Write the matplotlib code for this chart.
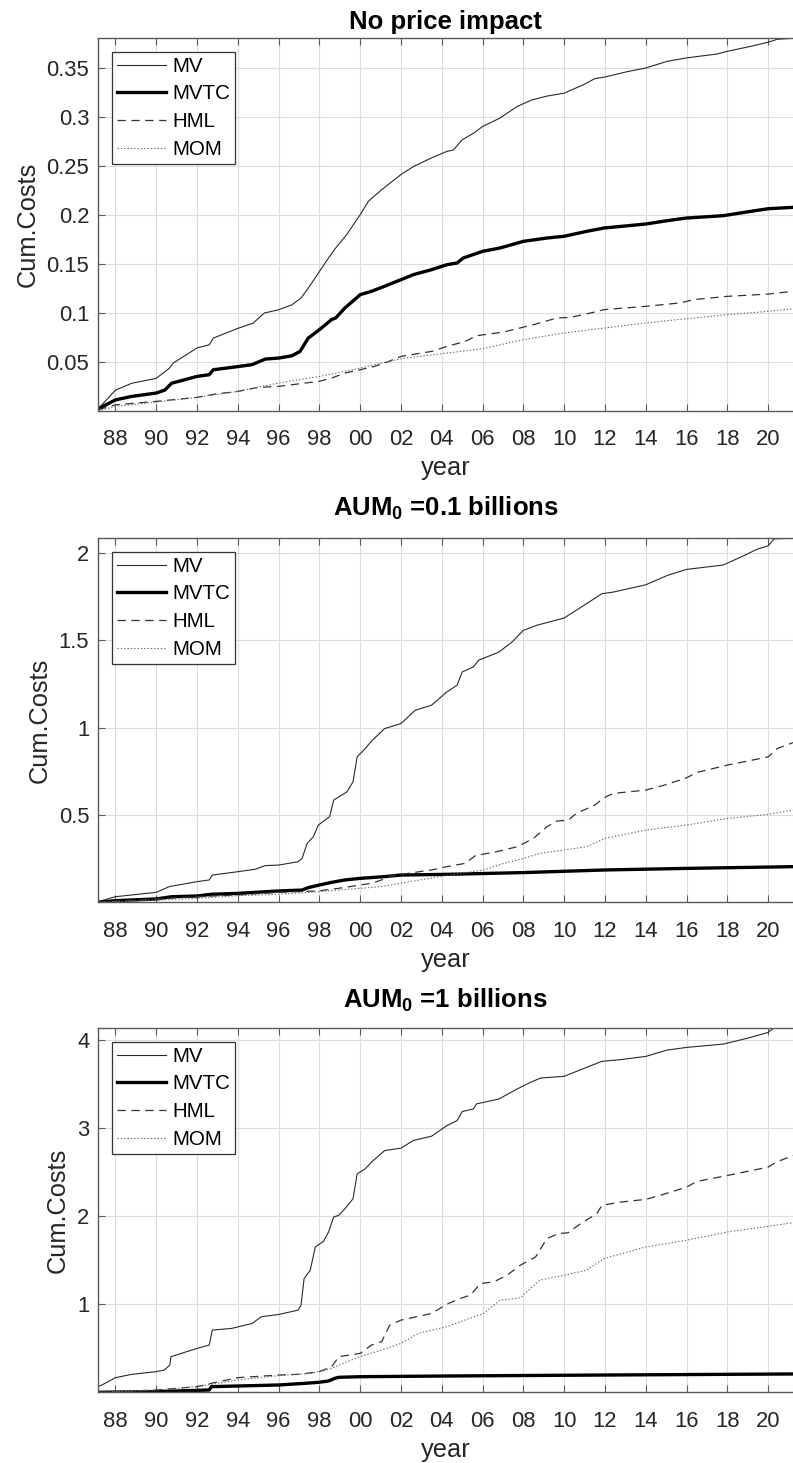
import matplotlib
matplotlib.use("Agg")
import matplotlib.pyplot as plt

plt.rcParams["font.family"] = ["Liberation Sans", "DejaVu Sans"]
plt.rcParams["mathtext.fontset"] = "custom"
plt.rcParams["mathtext.rm"] = "Liberation Sans"
plt.rcParams["mathtext.bf"] = "Liberation Sans:bold"
plt.rcParams["lines.scale_dashes"] = False

# ---- x axis (years) ----
x_ticks = [1988, 1990, 1992, 1994, 1996, 1998, 2000, 2002, 2004, 2006,
           2008, 2010, 2012, 2014, 2016, 2018, 2020]
x_tick_labels = ["88", "90", "92", "94", "96", "98", "00", "02", "04", "06",
                 "08", "10", "12", "14", "16", "18", "20"]
x_range = (1987.16, 2021.22)

titles = ["No price impact",
          r"$\mathbf{AUM_0}$ =0.1 billions",
          r"$\mathbf{AUM_0}$ =1 billions"]
series_names = ["MV", "MVTC", "HML", "MOM"]

# ---- panel 1: no price impact ----
mv1_t = [1987.16, 1988.0, 1988.8, 1990.0, 1990.65, 1990.83, 1992.0, 1992.6, 1992.8, 1994.0, 1994.76, 1995.3,
         1996.0, 1996.65, 1997.1, 1997.45, 1998.0, 1998.45, 1998.8, 1999.35, 2000.0, 2000.4, 2001.05, 2002.0,
         2002.6, 2003.5, 2004.25, 2004.57, 2005.0, 2005.55, 2006.0, 2006.85, 2007.7, 2008.4, 2009.15, 2010.0,
         2010.95, 2011.5, 2012.0, 2013.1, 2014.0, 2015.05, 2016.0, 2017.5, 2018.0, 2019.15, 2020.0, 2020.45,
         2021.22]
mv1_v = [0.002, 0.021, 0.028, 0.033, 0.0435, 0.0486, 0.064, 0.0673, 0.0741, 0.084, 0.0895, 0.0997,
         0.103, 0.108, 0.115, 0.125, 0.142, 0.156, 0.166, 0.18, 0.2, 0.2136, 0.2255, 0.241,
         0.249, 0.258, 0.2646, 0.266, 0.2765, 0.283, 0.29, 0.2986, 0.3105, 0.317, 0.321, 0.324,
         0.3327, 0.3388, 0.3405, 0.346, 0.3497, 0.3565, 0.36, 0.364, 0.3667, 0.3718, 0.376, 0.379,
         0.38]
mvtc1_t = [1987.16, 1988.0, 1988.8, 1990.0, 1990.42, 1990.75, 1992.0, 1992.6, 1992.8, 1994.0, 1994.7, 1995.35,
           1996.0, 1996.65, 1997.05, 1997.45, 1998.0, 1998.6, 1998.8, 1999.25, 2000.0, 2000.55, 2001.2, 2002.0,
           2002.6, 2003.5, 2004.25, 2004.75, 2005.05, 2006.0, 2006.85, 2008.0, 2009.15, 2010.0, 2011.1, 2011.95,
           2014.0, 2015.05, 2016.0, 2017.8, 2019.15, 2020.0, 2021.22]
mvtc1_v = [0.002, 0.011, 0.0146, 0.018, 0.021, 0.028, 0.035, 0.0367, 0.0418, 0.045, 0.047, 0.0527,
           0.0537, 0.056, 0.0605, 0.074, 0.0827, 0.093, 0.0946, 0.1048, 0.1184, 0.1218, 0.127, 0.1337,
           0.1388, 0.1439, 0.149, 0.1507, 0.1558, 0.1626, 0.166, 0.1728, 0.1762, 0.178, 0.183, 0.1864,
           0.1905, 0.1939, 0.1966, 0.199, 0.2034, 0.2061, 0.2075]
hml1_t = [1987.16, 1988.0, 1990.0, 1992.0, 1992.9, 1994.0, 1995.0, 1996.0, 1997.3, 1998.0, 1998.6, 1999.25,
          2000.0, 2000.7, 2001.4, 2002.0, 2002.7, 2003.5, 2004.25, 2005.15, 2005.7, 2007.03, 2008.5, 2009.65,
          2010.3, 2011.3, 2011.95, 2014.0, 2015.7, 2016.35, 2018.0, 2020.0, 2021.22]
hml1_v = [0.001, 0.006, 0.0095, 0.0136, 0.017, 0.0197, 0.0238, 0.0248, 0.0282, 0.03, 0.0333, 0.0384,
          0.0418, 0.0452, 0.0503, 0.0554, 0.0578, 0.0605, 0.0656, 0.0707, 0.0765, 0.0803, 0.0878, 0.0946,
          0.0952, 0.0997, 0.1031, 0.1065, 0.11, 0.1133, 0.1167, 0.119, 0.1218]
mom1_t = [1987.16, 1988, 1990, 1992, 1994, 1996, 1998, 2000, 2002, 2004.25, 2006, 2008, 2010, 2012,
          2014, 2016, 2018, 2020, 2021.22]
mom1_v = [0.0, 0.0044, 0.0088, 0.0136, 0.0197, 0.0282, 0.035, 0.0435, 0.053, 0.0588, 0.0633, 0.0724,
          0.0793, 0.0844, 0.0895, 0.0939, 0.098, 0.1014, 0.104]

# ---- panel 2: AUM0 = 0.1 billions ----
mv2_t = [1987.16, 1988.0, 1990.0, 1990.65, 1992.0, 1992.6, 1992.75, 1994.0, 1994.85, 1995.35, 1996.0, 1996.95,
         1997.15, 1997.4, 1997.7, 1997.95, 1998.5, 1998.7, 1999.35, 1999.65, 1999.85, 2000.25, 2000.55, 2001.2,
         2002.0, 2002.7, 2003.5, 2004.25, 2004.75, 2005.0, 2005.55, 2005.8, 2006.8, 2007.45, 2008.0, 2008.65,
         2010.0, 2011.1, 2011.85, 2012.4, 2014.0, 2015.05, 2016.0, 2017.8, 2018.8, 2019.45, 2020.0, 2020.3,
         2021.22]
mv2_v = [0.004, 0.032, 0.057, 0.09, 0.118, 0.128, 0.156, 0.175, 0.189, 0.21, 0.213, 0.232,
         0.251, 0.337, 0.375, 0.442, 0.49, 0.585, 0.632, 0.69, 0.832, 0.88, 0.922, 0.994,
         1.023, 1.099, 1.128, 1.204, 1.242, 1.318, 1.347, 1.385, 1.432, 1.49, 1.556, 1.585,
         1.627, 1.709, 1.766, 1.775, 1.817, 1.87, 1.905, 1.93, 1.983, 2.02, 2.04, 2.08,
         2.083]
mvtc2_t = [1987.16, 1988, 1990, 1990.75, 1992, 1992.7, 1994, 1996, 1997.15, 1997.45, 1998, 1998.6,
           1999.25, 2000, 2001.2, 2002, 2004.25, 2008, 2012, 2016, 2021.22]
mvtc2_v = [0.0, 0.0095, 0.019, 0.032, 0.036, 0.046, 0.051, 0.065, 0.07, 0.084, 0.099, 0.114,
           0.128, 0.137, 0.147, 0.156, 0.16, 0.17, 0.185, 0.194, 0.204]
hml2_t = [1987.16, 1990, 1992, 1994, 1996, 1997.95, 1998.93, 2000, 2000.57, 2001.05, 2001.39, 2002,
          2003.5, 2004.25, 2005.15, 2005.65, 2006.7, 2007.7, 2008.5, 2009.15, 2009.65, 2010.2, 2010.6,
          2011.5, 2011.95, 2012.4, 2014, 2014.9, 2016, 2016.5, 2018, 2020, 2020.45, 2021.22]
hml2_v = [0.0, 0.019, 0.032, 0.042, 0.057, 0.065, 0.08, 0.099, 0.109, 0.128, 0.147, 0.16,
          0.185, 0.204, 0.223, 0.267, 0.29, 0.318, 0.366, 0.432, 0.465, 0.47, 0.509,
          0.556, 0.598, 0.623, 0.642, 0.67, 0.712, 0.743, 0.785, 0.832, 0.88, 0.914]
mom2_t = [1987.16, 1990, 1992, 1994, 1996, 1998, 2000, 2001.05, 2002, 2004.0, 2006.05, 2007.05,
          2008, 2008.8, 2010, 2011.1, 2012, 2014, 2016, 2018, 2020, 2021.22]
mom2_v = [0.0, 0.013, 0.023, 0.038, 0.046, 0.061, 0.08, 0.09, 0.109, 0.15, 0.185, 0.223,
          0.251, 0.28, 0.299, 0.318, 0.366, 0.413, 0.442, 0.48, 0.503, 0.528]

# ---- panel 3: AUM0 = 1 billions ----
mv3_t = [1987.16, 1987.48, 1988.0, 1988.8, 1990.0, 1990.4, 1990.67, 1990.72, 1992.0, 1992.6, 1992.75, 1993.7,
         1994.7, 1995.15, 1996.0, 1996.95, 1997.1, 1997.25, 1997.55, 1997.8, 1998.2, 1998.45, 1998.7, 1998.95,
         1999.25, 1999.65, 1999.85, 2000.25, 2000.55, 2001.2, 2002.0, 2002.6, 2003.5, 2004.25, 2004.75, 2005.0,
         2005.55, 2005.7, 2006.8, 2007.7, 2008.35, 2008.85, 2010.0, 2011.1, 2011.85, 2012.75, 2014.0, 2015.05,
         2016.0, 2017.8, 2018.95, 2020.0, 2020.25, 2021.22]
mv3_v = [0.064, 0.1, 0.166, 0.204, 0.234, 0.253, 0.31, 0.404, 0.498, 0.536, 0.706, 0.725,
         0.781, 0.857, 0.883, 0.932, 0.989, 1.29, 1.385, 1.649, 1.713, 1.819, 1.989, 2.008,
         2.083, 2.196, 2.479, 2.536, 2.611, 2.743, 2.77, 2.857, 2.906, 3.026, 3.083, 3.185,
         3.215, 3.272, 3.328, 3.442, 3.517, 3.566, 3.585, 3.687, 3.755, 3.774, 3.811, 3.883,
         3.913, 3.951, 4.015, 4.083, 4.128, 4.13]
mvtc3_t = [1987.16, 1990, 1992.6, 1992.7, 1996, 1997.3, 1997.95, 1998.45, 1998.75, 1998.95, 2000,
           2004.25, 2012, 2021.22]
mvtc3_v = [0.0, 0.008, 0.026, 0.064, 0.083, 0.102, 0.113, 0.128, 0.158, 0.17, 0.177,
           0.185, 0.196, 0.208]
hml3_t = [1987.16, 1990, 1992, 1992.7, 1994, 1996, 1997, 1998, 1998.6, 1998.95, 2000, 2000.55,
          2001.05, 2001.45, 2002, 2003.5, 2004.25, 2004.9, 2005.4, 2005.9, 2006.55, 2007.2, 2007.85,
          2008.6, 2009.15, 2009.7, 2010.2, 2010.8, 2011.6, 2011.85, 2012.75, 2014, 2014.7, 2016,
          2016.5, 2018, 2020, 2020.4, 2021.22]
hml3_v = [0.0, 0.026, 0.064, 0.102, 0.166, 0.196, 0.204, 0.234, 0.29, 0.404, 0.442, 0.536,
          0.574, 0.762, 0.819, 0.894, 1.0, 1.064, 1.102, 1.234, 1.253, 1.328, 1.442,
          1.536, 1.743, 1.8, 1.811, 1.913, 2.026, 2.121, 2.158, 2.189, 2.234, 2.328,
          2.392, 2.46, 2.555, 2.611, 2.687]
mom3_t = [1987.16, 1990, 1992, 1994, 1996, 1997.6, 1998.6, 1999.35, 2000, 2001.05, 2002, 2002.85,
          2004.25, 2004.9, 2006.05, 2006.85, 2007.85, 2008.8, 2010, 2011.1, 2011.95, 2013.1, 2014,
          2016, 2018, 2020, 2021.22]
mom3_v = [0.0, 0.026, 0.064, 0.14, 0.189, 0.215, 0.272, 0.347, 0.404, 0.479, 0.555, 0.668,
          0.745, 0.8, 0.894, 1.045, 1.072, 1.272, 1.328, 1.385, 1.517, 1.592, 1.649,
          1.725, 1.819, 1.883, 1.925]

y_ticks = [[0.05, 0.1, 0.15, 0.2, 0.25, 0.3, 0.35],
           [0.5, 1, 1.5, 2],
           [1, 2, 3, 4]]
y_tops = [0.38, 2.083, 4.13]

panels = [
    [(mv1_t, mv1_v), (mvtc1_t, mvtc1_v), (hml1_t, hml1_v), (mom1_t, mom1_v)],
    [(mv2_t, mv2_v), (mvtc2_t, mvtc2_v), (hml2_t, hml2_v), (mom2_t, mom2_v)],
    [(mv3_t, mv3_v), (mvtc3_t, mvtc3_v), (hml3_t, hml3_v), (mom3_t, mom3_v)],
]

line_styles = [
    dict(color="#2a2a2a", lw=0.8, ls="-"),
    dict(color="#000000", lw=2.4, ls="-"),
    dict(color="#333333", lw=0.9, ls=(0, (6, 4))),
    dict(color="#6a6a6a", lw=0.8, ls=(0, (1, 1.4))),
]

W, H = 793, 1463
fig = plt.figure(figsize=(W / 100, H / 100), dpi=100)

# axes boxes in pixels: (top, bottom)
boxes = [(38.3, 410.7), (538.3, 902.3), (1028.3, 1392.3)]
left_px = 98.3
title_pads = [7.0, 16.0, 15.0]

axis_col = "#5a5a5a"
text_col = "#262626"
tick_fs = 15.8
label_fs = 18.3
title_fs = 18.5
legend_fs = 14.8

for i, (top, bot) in enumerate(boxes):
    ax = fig.add_axes([left_px / W, 1 - bot / H, (W - left_px) / W, (bot - top) / H])
    for (t, v), name, st in zip(panels[i], series_names, line_styles):
        ax.plot(t, v, label=name, solid_joinstyle="round", **st)

    ax.set_xlim(*x_range)
    ax.set_ylim(0, y_tops[i])
    ax.set_xticks(x_ticks)
    ax.set_xticklabels(x_tick_labels)
    ax.set_yticks(y_ticks[i])
    ax.set_yticklabels(["%g" % v for v in y_ticks[i]])

    ax.grid(True, color="#dcdcdc", lw=0.8)
    ax.set_axisbelow(True)
    for side in ("left", "bottom", "top"):
        ax.spines[side].set_color(axis_col)
        ax.spines[side].set_linewidth(1.0)
    ax.spines["right"].set_visible(False)

    ax.tick_params(axis="x", which="both", direction="in", length=5, width=0.8,
                   color=axis_col, top=True, labelsize=tick_fs, labelcolor=text_col, pad=13.5)
    ax.tick_params(axis="y", which="both", direction="in", length=5, width=0.8,
                   color=axis_col, right=False, labelsize=tick_fs, labelcolor=text_col, pad=6.5)

    ax.set_xlabel("year", fontsize=label_fs, color=text_col, labelpad=4)
    ax.set_ylabel("Cum.Costs", fontsize=label_fs, color=text_col, labelpad=5)
    ax.set_title(titles[i], fontsize=title_fs, fontweight="bold", color="black", pad=title_pads[i])

    axw = W - left_px
    axh = bot - top
    leg = ax.legend(loc="upper left", bbox_to_anchor=(13.5 / axw, 1 - 13.4 / axh),
                    borderaxespad=0, fontsize=legend_fs, frameon=True, fancybox=False,
                    framealpha=1, edgecolor="#333333", handlelength=2.38,
                    handletextpad=0.3, borderpad=0.25, labelspacing=0.42)
    leg.get_frame().set_linewidth(0.9)

fig.savefig("out.png", dpi=100)
